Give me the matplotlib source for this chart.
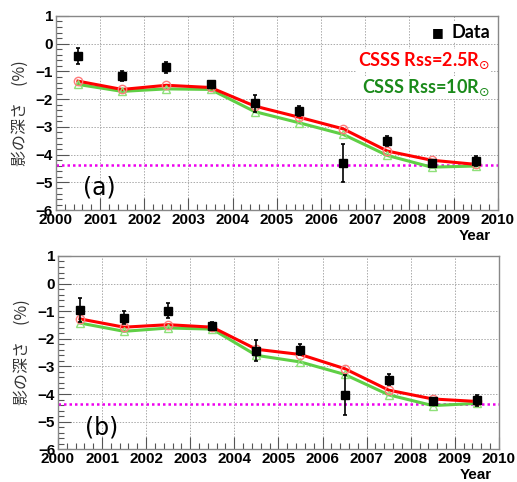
import matplotlib
matplotlib.use("Agg")
import matplotlib.pyplot as plt
from matplotlib.ticker import MultipleLocator

# --- data ---
years = [2000.5, 2001.5, 2002.5, 2003.5, 2004.5, 2005.5, 2006.5, 2007.5, 2008.5, 2009.5]

data_a = [-0.45, -1.15, -0.85, -1.45, -2.15, -2.42, -4.30, -3.50, -4.30, -4.22]
err_a  = [0.28, 0.18, 0.20, 0.10, 0.30, 0.17, 0.70, 0.18, 0.10, 0.18]
red_a   = [-1.35, -1.65, -1.50, -1.58, -2.25, -2.65, -3.07, -3.87, -4.20, -4.35]
green_a = [-1.47, -1.72, -1.63, -1.65, -2.45, -2.85, -3.27, -4.03, -4.45, -4.41]

data_b = [-0.96, -1.23, -0.98, -1.53, -2.43, -2.39, -4.04, -3.49, -4.27, -4.23]
err_b  = [0.45, 0.25, 0.27, 0.12, 0.38, 0.20, 0.72, 0.20, 0.12, 0.20]
red_b   = [-1.28, -1.58, -1.49, -1.58, -2.38, -2.57, -3.08, -3.86, -4.18, -4.27]
green_b = [-1.43, -1.73, -1.61, -1.65, -2.60, -2.84, -3.29, -4.03, -4.42, -4.34]

threshold = -4.36
panel_labels = ["(a)", "(b)"]

TICK_FONT = "Liberation Sans"
LEG_FONT = ["Lato", "DejaVu Sans"]

fig = plt.figure(figsize=(5.17, 4.82), dpi=100)
ax_a = fig.add_axes([0.108, 0.564, 0.855, 0.403])
ax_b = fig.add_axes([0.112, 0.068, 0.853, 0.401])

panels = [
    (ax_a, data_a, err_a, red_a, green_a, panel_labels[0]),
    (ax_b, data_b, err_b, red_b, green_b, panel_labels[1]),
]

for ax, dat, err, red, green, lab in panels:
    # model curves
    ax.plot(years, green, color="#5fcf45", lw=2.2, zorder=3)
    ax.plot(years, green, ls="none", marker="^", ms=6, mfc="none",
            mec="#8fe07a", mew=1.0, zorder=4)
    ax.plot(years, red, color="#ff0000", lw=2.2, zorder=3)
    ax.plot(years, red, ls="none", marker="o", ms=6, mfc="none",
            mec="#ff7a7a", mew=1.0, zorder=4)
    # data
    ax.errorbar(years, dat, yerr=err, fmt="s", color="black", ms=6,
                elinewidth=1.2, capsize=1.5, capthick=1.2, zorder=5)
    # threshold line
    ax.axhline(threshold, color="#ee00ee", lw=1.8, ls=(0, (1, 1.2)), zorder=2)

    ax.set_xlim(2000, 2010)
    ax.set_ylim(-6, 1)
    ax.xaxis.set_major_locator(MultipleLocator(1))
    ax.xaxis.set_minor_locator(MultipleLocator(0.2))
    ax.yaxis.set_major_locator(MultipleLocator(1))
    ax.yaxis.set_minor_locator(MultipleLocator(0.2))
    ax.tick_params(which="both", direction="in", color="#555555")
    ax.tick_params(which="major", length=9, width=0.8)
    ax.tick_params(which="minor", length=4.5, width=0.8)
    ax.tick_params(axis="both", which="major", labelsize=11, pad=2)
    for t in ax.get_xticklabels() + ax.get_yticklabels():
        t.set_fontfamily(TICK_FONT)
        t.set_fontweight("bold")
    ax.grid(True, which="major", color="#aaaaaa", ls=(0, (1.5, 1.5)), lw=0.7)
    ax.set_axisbelow(True)
    for sp in ax.spines.values():
        sp.set_color("#888888")
        sp.set_linewidth(1.0)

    ax.text(2000.62, -5.2, lab, fontsize=17, fontfamily="DejaVu Sans",
            va="center", ha="left")
    ax.text(0.985, -0.095, "Year", transform=ax.transAxes, ha="right", va="top",
            fontsize=11, fontweight="bold", fontfamily=TICK_FONT)
    ax.text(-0.08, 0.5, "影の深さ　(%)", transform=ax.transAxes, rotation=90,
            ha="center", va="center", fontsize=11.5, color="#333333",
            family=["Noto Sans CJK JP", "DejaVu Sans"])

# legend on top panel
ax_a.text(0.982, 0.915, "Data", transform=ax_a.transAxes, ha="right",
          va="center", fontsize=13, fontweight="bold", family=LEG_FONT,
          color="black", zorder=6,
          bbox=dict(facecolor="white", edgecolor="none", pad=1))
ax_a.text(0.877, 0.915, "■", transform=ax_a.transAxes, ha="right",
          va="center", fontsize=9, family=["DejaVu Sans"],
          color="black", zorder=6)
ax_a.text(0.982, 0.77, r"CSSS Rss=2.5R$_{\odot}$", transform=ax_a.transAxes,
          ha="right", va="center", fontsize=13, fontweight="bold",
          family=LEG_FONT, color="#ff0000", zorder=6,
          bbox=dict(facecolor="white", edgecolor="none", pad=1))
ax_a.text(0.982, 0.63, r"CSSS Rss=10R$_{\odot}$", transform=ax_a.transAxes,
          ha="right", va="center", fontsize=13, fontweight="bold",
          family=LEG_FONT, color="#1a8a1a", zorder=6,
          bbox=dict(facecolor="white", edgecolor="none", pad=1))

fig.savefig("out.png", dpi=100)
